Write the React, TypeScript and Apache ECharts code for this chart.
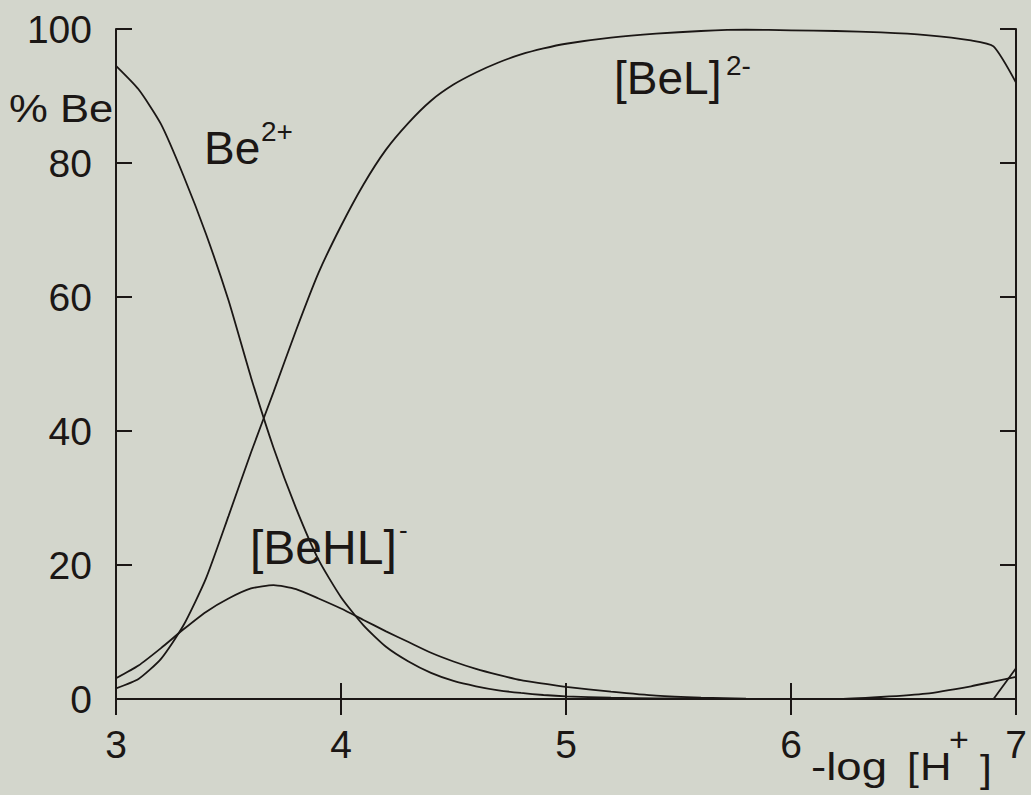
import React, { useEffect, useRef } from "react";
import * as echarts from "echarts";

// Species distribution of beryllium versus -log[H+]
const pH = [
  3.0, 3.1, 3.2, 3.3, 3.4, 3.5, 3.6, 3.7, 3.8, 3.9, 4.0, 4.1, 4.2, 4.3, 4.4, 4.5,
  4.6, 4.7, 4.8, 4.9, 5.0, 5.2, 5.4, 5.6, 5.8, 6.0, 6.2, 6.4, 6.6, 6.8, 6.9, 7.0,
];

// % Be as free Be2+
const beFree = [
  94.5, 91.0, 85.8, 78.1, 69.4, 59.5, 48.0, 37.5, 28.5, 20.8, 15.2, 11.0, 7.8, 5.6, 3.9, 2.7,
  1.9, 1.3, 0.9, 0.6, 0.4, 0.2, 0.1, 0.05, 0, 0, 0, 0, 0, 0, 0, 0,
];

// % Be as [BeL]2-
const beL = [
  1.6, 3.0, 6.0, 11.0, 18.0, 27.3, 36.8, 45.8, 55.0, 63.6, 70.6, 76.8, 82.0, 86.0, 89.3, 91.7,
  93.5, 95.0, 96.2, 97.1, 97.8, 98.7, 99.3, 99.7, 99.9, 99.8, 99.7, 99.5, 99.1, 98.3, 97.4, 92.0,
];

// % Be as [BeHL]-
const beHL = [
  3.1, 5.0, 7.6, 10.4, 13.0, 15.0, 16.5, 17.0, 16.4, 15.0, 13.5, 11.8, 10.1, 8.5, 6.9, 5.6,
  4.5, 3.6, 2.8, 2.3, 1.8, 1.1, 0.5, 0.2, 0.05, 0, 0, 0, 0, 0, 0, 0,
];

// hydrolysed species appearing near neutral pH
const beLOH = [
  0, 0, 0, 0, 0, 0, 0, 0, 0, 0, 0, 0, 0, 0, 0, 0,
  0, 0, 0, 0, 0, 0, 0, 0, 0, 0, 0, 0.3, 0.8, 1.9, 2.6, 3.3,
];
const beOH2 = [
  0, 0, 0, 0, 0, 0, 0, 0, 0, 0, 0, 0, 0, 0, 0, 0,
  0, 0, 0, 0, 0, 0, 0, 0, 0, 0, 0, 0, 0, 0, 0, 4.6,
];

const xTicks = [3, 4, 5, 6, 7];
const yTicks = [0, 20, 40, 60, 80, 100];

const INK = "#1b1715";
const BG = "#d3d6cc";
const FONT = "'Liberation Sans', Arial, Helvetica, sans-serif";

const pairs = (ys: number[]) => pH.map((x, i) => [x, ys[i]]);

export default function App() {
  const ref = useRef<HTMLDivElement>(null);

  useEffect(() => {
    if (!ref.current) return;
    const chart = echarts.init(ref.current, null, { renderer: "svg" });

    const axisLine = { show: true, lineStyle: { color: INK, width: 2 } };
    const axisTick = { show: true, inside: true, length: 16, lineStyle: { color: INK, width: 2 } };

    const line = (name: string, ys: number[], smooth: number) => ({
      name,
      type: "line",
      data: pairs(ys),
      showSymbol: false,
      symbol: "none",
      smooth,
      lineStyle: { color: INK, width: 1.8 },
      z: 3,
    });

    const txt = (
      text: string,
      x: number,
      y: number,
      fontSize: number,
      scaleX = 1
    ) => ({
      type: "text",
      x,
      y,
      scaleX,
      z: 10,
      style: {
        text,
        fontSize,
        fontFamily: FONT,
        fill: INK,
        align: "left",
        verticalAlign: "middle",
      },
    });

    chart.setOption({
      animation: false,
      backgroundColor: BG,
      grid: { left: 116, right: 15, top: 29, bottom: 96, containLabel: false },
      xAxis: [
        {
          type: "value",
          min: xTicks[0],
          max: xTicks[xTicks.length - 1],
          interval: 1,
          position: "bottom",
          axisLine,
          axisTick,
          splitLine: { show: false },
          axisLabel: {
            show: true,
            margin: 26,
            fontSize: 39,
            fontFamily: FONT,
            color: INK,
            formatter: (v: number) => (xTicks.includes(v) ? String(v) : ""),
          },
        },
        {
          type: "value",
          min: xTicks[0],
          max: xTicks[xTicks.length - 1],
          interval: 1,
          position: "top",
          axisLine,
          axisTick,
          splitLine: { show: false },
          axisLabel: { show: false },
        },
      ],
      yAxis: [
        {
          type: "value",
          min: yTicks[0],
          max: yTicks[yTicks.length - 1],
          interval: 20,
          position: "left",
          axisLine,
          axisTick,
          splitLine: { show: false },
          axisLabel: {
            show: true,
            margin: 24,
            fontSize: 39,
            fontFamily: FONT,
            color: INK,
            formatter: (v: number) => (yTicks.includes(v) ? String(v) : ""),
          },
        },
        {
          type: "value",
          min: yTicks[0],
          max: yTicks[yTicks.length - 1],
          interval: 20,
          position: "right",
          axisLine,
          axisTick,
          splitLine: { show: false },
          axisLabel: { show: false },
        },
      ],
      series: [
        line("Be2+", beFree, 0.2),
        line("[BeL]2-", beL, 0.2),
        line("[BeHL]-", beHL, 0.2),
        line("[BeL(OH)]3-", beLOH, 0.2),
        line("Be(OH)2", beOH2, 0),
      ],
      graphic: [
        txt("% Be", 9, 109, 38, 1.15),
        txt("Be", 204, 148, 46),
        txt("2+", 261, 131, 28),
        txt("[BeL]", 614, 78, 46),
        txt("2-", 726, 65, 28),
        txt("[BeHL]", 250, 547, 48),
        txt("-", 399, 530, 26),
        txt("-log", 811, 767, 38, 1.2),
        txt("[", 907, 767, 38, 1.12),
        txt("H", 920, 767, 38, 1.15),
        txt("+", 949, 739, 34),
        txt("]", 980, 769, 38, 1.12),
      ],
    });

    return () => chart.dispose();
  }, []);

  return (
    <div
      ref={ref}
      style={{ position: "fixed", left: 0, top: 0, width: 1031, height: 795, background: BG }}
    />
  );
}
